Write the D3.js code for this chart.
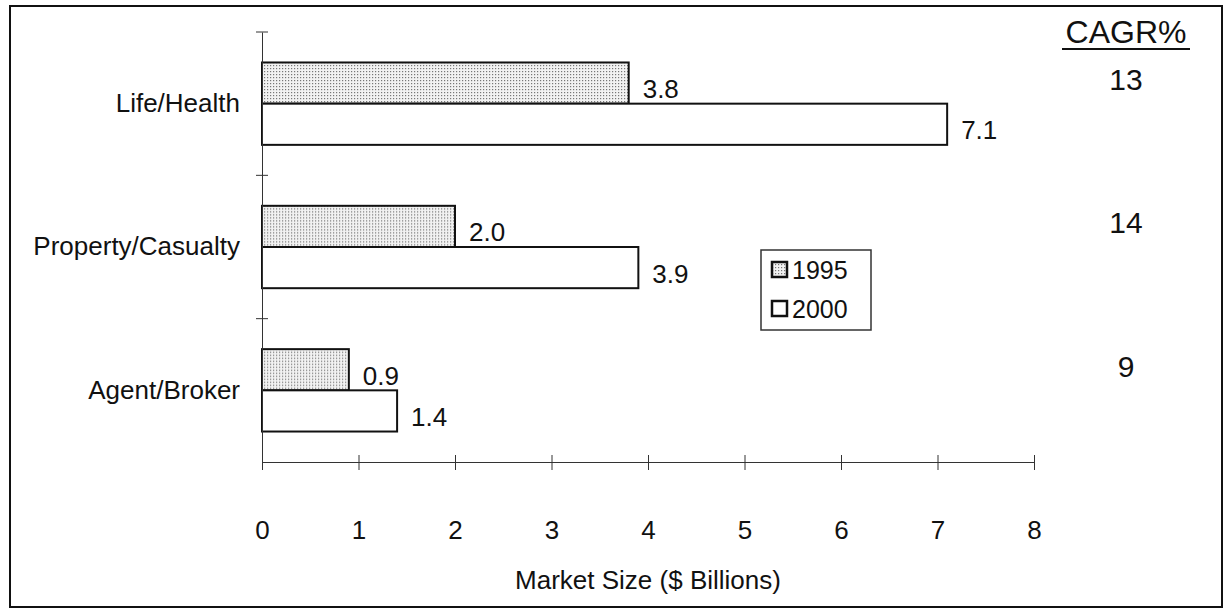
<!DOCTYPE html>
<html>
<head>
<meta charset="utf-8">
<script src="https://cdn.jsdelivr.net/npm/d3@7"></script>
<style>
  body { margin: 0; background: #fff; }
  svg text { font-family: "Liberation Sans", Arial, sans-serif; fill: #111; }
</style>
</head>
<body>
<svg width="1225" height="610"></svg>
<script>
// The data:
const categories = ['Life/Health', 'Property/Casualty', 'Agent/Broker']
const years = ['1995', '2000']
const values1995 = [3.8, 2.0, 0.9]
const values2000 = [7.1, 3.9, 1.4]
const cagr = ['13', '14', '9']
const xTicks = [0, 1, 2, 3, 4, 5, 6, 7, 8]

const rows = categories.map((c, i) => ({
  cat: c,
  vals: [
    { year: '1995', v: values1995[i] },
    { year: '2000', v: values2000[i] },
  ],
  cagr: cagr[i],
}))

const svg = d3.select('svg')

// stipple fill for the 1995 bars
const pat = svg.append('defs').append('pattern')
  .attr('id', 'dots').attr('width', 3).attr('height', 3)
  .attr('patternUnits', 'userSpaceOnUse')
pat.append('rect').attr('width', 3).attr('height', 3).attr('fill', '#f2f2f2')
pat.append('rect').attr('width', 1.2).attr('height', 1.2).attr('fill', '#777')

// outer frame
svg.append('rect')
  .attr('x', 10).attr('y', 6).attr('width', 1212).attr('height', 601)
  .attr('fill', 'none').attr('stroke', '#111').attr('stroke-width', 2)

// scales
const xScale = d3.scaleLinear().domain([0, 8]).range([262, 1034])
const yScale = d3.scaleBand().domain(categories).range([32, 462])
const ySub = d3.scaleBand().domain(years).range([0, yScale.bandwidth()])
  .paddingInner(0).paddingOuter(0.74)

const fillFor = { '1995': 'url(#dots)', '2000': '#fff' }

// bars
const groups = svg.selectAll('g.cat')
  .data(rows)
  .enter()
  .append('g')
  .attr('class', 'cat')
  .attr('transform', (d) => `translate(0,${yScale(d.cat)})`)

groups.selectAll('rect')
  .data((d) => d.vals)
  .enter()
  .append('rect')
  .attr('x', xScale(0))
  .attr('y', (d) => ySub(d.year))
  .attr('width', (d) => xScale(d.v) - xScale(0))
  .attr('height', ySub.bandwidth())
  .attr('fill', (d) => fillFor[d.year])
  .attr('stroke', '#111')
  .attr('stroke-width', 2)

groups.selectAll('text.val')
  .data((d) => d.vals)
  .enter()
  .append('text')
  .attr('class', 'val')
  .attr('x', (d) => xScale(d.v) + 14)
  .attr('y', (d) => ySub(d.year) + ySub.bandwidth() / 2 + 15)
  .attr('font-size', 26)
  .text((d) => d.v.toFixed(1))

// x-axis
const xAxis = d3.axisBottom(xScale).tickValues(xTicks).tickSize(0).tickPadding(0)
const xg = svg.append('g').attr('transform', 'translate(0,462)').call(xAxis)
xg.select('.domain').attr('stroke', '#333')
xg.selectAll('.tick line').attr('y1', -7).attr('y2', 8).attr('stroke', '#333')
xg.selectAll('.tick text').attr('font-size', 26).attr('dy', 0).attr('y', 77)

svg.append('text')
  .attr('x', (xScale(0) + xScale(8)) / 2)
  .attr('y', 589)
  .attr('text-anchor', 'middle')
  .attr('font-size', 26)
  .text('Market Size ($ Billions)')

// y-axis with category labels
const yAxis = d3.axisLeft(yScale).tickSize(0).tickPadding(22)
const yg = svg.append('g').attr('transform', `translate(${xScale(0)},0)`).call(yAxis)
yg.select('.domain').attr('stroke', '#333')
yg.selectAll('.tick text').attr('font-size', 26)

// boundary ticks between categories
svg.selectAll('line.sep')
  .data(categories)
  .enter()
  .append('line')
  .attr('x1', xScale(0) - 6)
  .attr('x2', xScale(0) + 6)
  .attr('y1', (d) => yScale(d))
  .attr('y2', (d) => yScale(d))
  .attr('stroke', '#333')

// CAGR column
const cagrX = 1126
svg.append('text')
  .attr('x', cagrX).attr('y', 43)
  .attr('text-anchor', 'middle')
  .attr('font-size', 32)
  .text('CAGR%')
svg.append('line')
  .attr('x1', cagrX - 64).attr('x2', cagrX + 64)
  .attr('y1', 49).attr('y2', 49)
  .attr('stroke', '#111').attr('stroke-width', 2)

svg.selectAll('text.cagr')
  .data(rows)
  .enter()
  .append('text')
  .attr('class', 'cagr')
  .attr('x', cagrX)
  .attr('y', (d) => yScale(d.cat) + ySub('1995') + ySub.bandwidth() / 2 + 7)
  .attr('text-anchor', 'middle')
  .attr('font-size', 30)
  .text((d) => d.cagr)

// legend
const legend = svg.append('g').attr('transform', 'translate(761,250)')
legend.append('rect')
  .attr('width', 110).attr('height', 80)
  .attr('fill', '#fff').attr('stroke', '#333').attr('stroke-width', 1.5)

const items = legend.selectAll('g.item')
  .data(years)
  .enter()
  .append('g')
  .attr('class', 'item')
  .attr('transform', (d, i) => `translate(11,${20 + i * 39})`)

items.append('rect')
  .attr('x', 0).attr('y', -8)
  .attr('width', 15).attr('height', 15)
  .attr('fill', (d) => fillFor[d])
  .attr('stroke', '#111').attr('stroke-width', 2.5)

items.append('text')
  .attr('x', 20).attr('y', 9)
  .attr('font-size', 25)
  .text((d) => d)
</script>
</body>
</html>
